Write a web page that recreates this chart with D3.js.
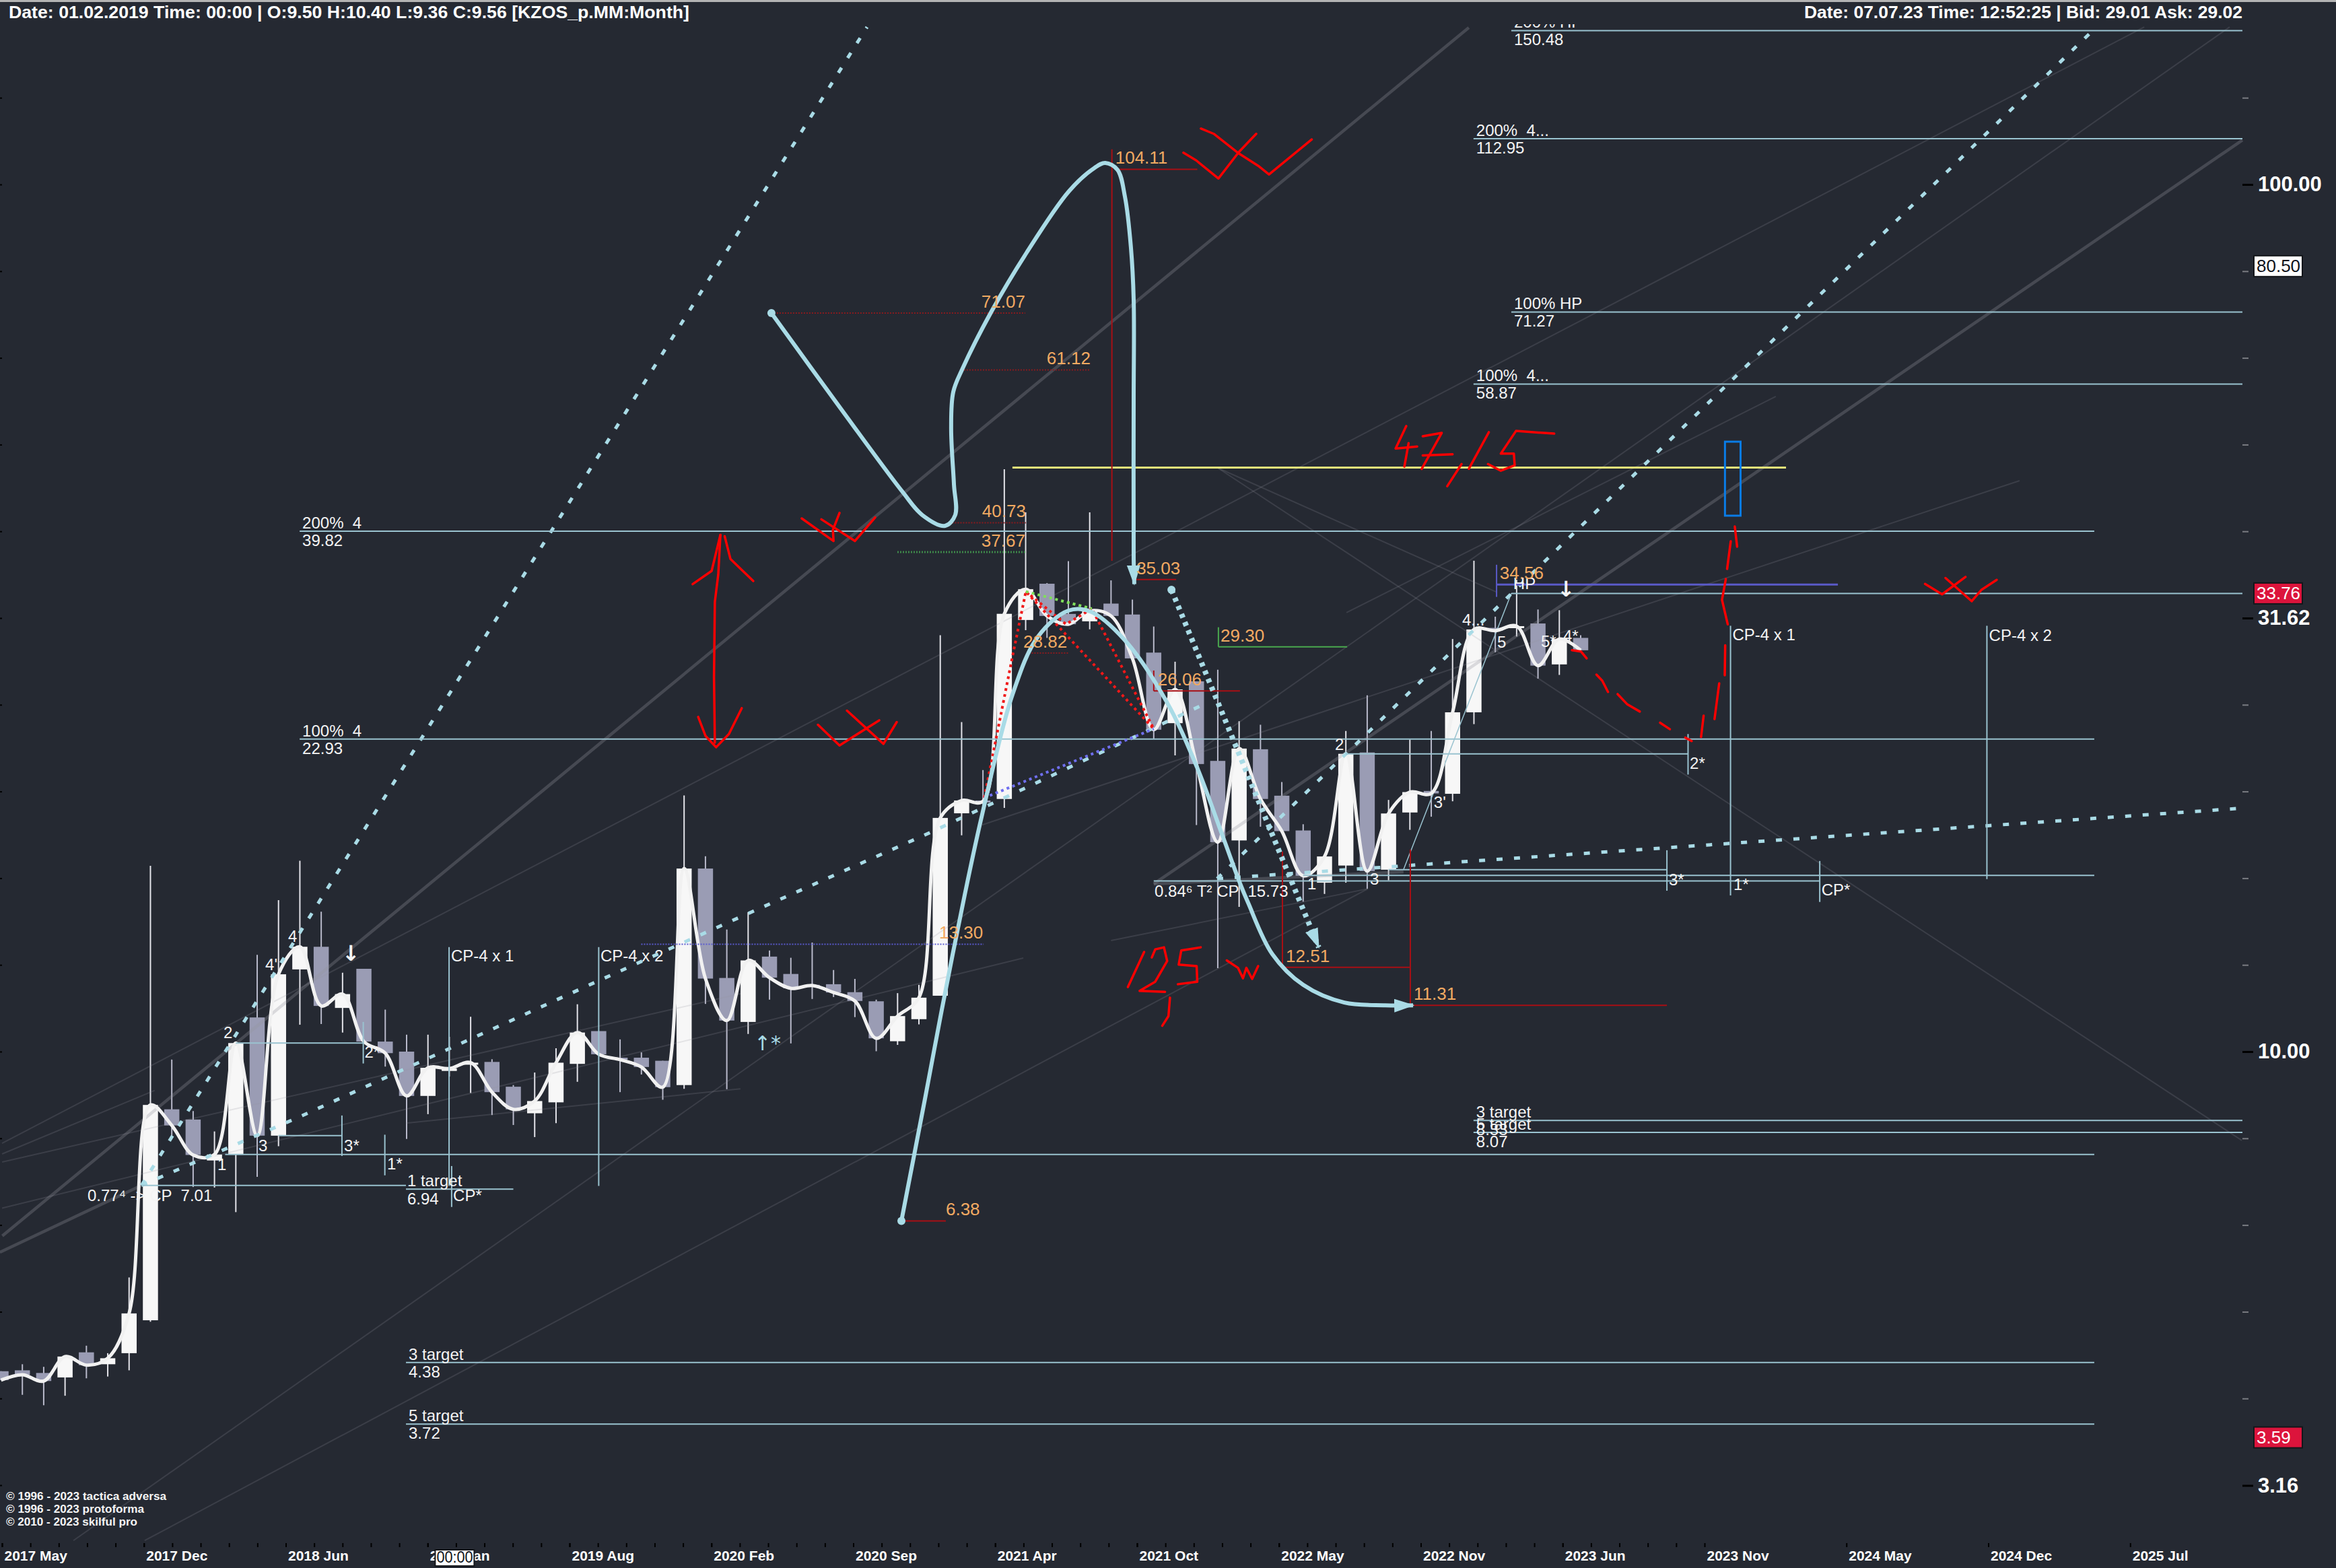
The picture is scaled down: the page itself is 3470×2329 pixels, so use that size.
<!DOCTYPE html>
<html>
<head>
<meta charset="utf-8">
<script src="https://cdn.jsdelivr.net/npm/d3@7"></script>
<style>
  html, body { margin: 0; background: #252932; }
  svg { display: block; }
  text { font-family: "Liberation Sans", Arial, sans-serif; white-space: pre; }
</style>
</head>
<body>
<svg id="chart" width="3470" height="2329"></svg>
<script>
// monthly candles, first one is May 2017
const months = d3.timeMonth.range(new Date(2017, 4, 1), new Date(2023, 7, 1));
const opens = [4.28,4.29,4.26,4.21,4.50,4.36,4.49,4.90,8.58,8.35,7.49,7.61,10.95,8.00,12.44,13.21,11.23,12.46,10.27,10.00,8.89,9.50,9.67,9.73,9.11,8.49,8.74,9.68,10.56,9.84,9.84,9.76,9.15,16.26,12.16,10.82,12.87,12.29,11.94,11.96,11.71,11.43,10.28,10.90,11.60,18.83,19.48,19.56,31.46,34.64,31.97,31.35,32.86,31.92,28.85,23.92,26.73,21.64,17.52,22.32,19.73,17.99,15.66,16.39,22.13,16.21,18.87,19.98,19.83,24.62,30.81,30.81,31.17,27.96,30.00];
const highs = [4.28,4.36,4.33,4.45,4.58,4.49,5.49,16.38,9.79,8.54,8.09,10.23,12.93,14.95,16.60,14.50,12.33,12.46,11.18,10.46,10.46,10.40,10.97,9.80,9.15,9.46,10.09,11.34,10.56,10.33,9.98,9.76,19.74,16.80,13.83,14.48,13.08,12.83,13.36,12.42,12.13,11.48,11.68,11.94,30.21,23.99,21.12,46.95,41.87,34.70,36.78,41.87,34.95,33.21,30.92,28.16,26.73,27.57,24.04,23.82,20.46,18.29,16.79,23.43,25.76,19.51,22.90,23.43,29.91,36.82,31.74,35.00,32.35,32.29,30.21];
const lows = [4.18,4.02,3.91,4.01,4.20,4.22,4.29,4.88,8.00,6.98,6.97,6.53,7.17,7.78,10.74,10.76,10.52,10.27,9.61,7.93,8.47,9.36,8.96,8.45,8.23,7.97,8.27,9.23,9.93,8.98,9.41,8.80,9.06,11.35,9.05,10.48,11.48,10.22,11.50,11.56,10.96,10.01,10.18,10.75,11.60,17.76,19.01,19.10,30.62,30.00,31.11,30.69,31.80,28.41,22.96,21.96,18.25,12.48,14.69,18.17,17.96,14.89,15.20,15.66,15.41,15.76,18.02,18.66,19.44,23.86,28.87,30.11,26.92,27.19,29.03];
const closes = [4.18,4.24,4.17,4.45,4.35,4.43,4.99,8.68,8.22,7.60,7.61,10.23,8.00,12.28,13.21,11.29,11.65,10.27,9.96,8.89,9.58,9.56,9.71,8.98,8.58,8.77,9.71,10.52,9.93,9.79,9.60,9.10,16.26,12.14,10.86,12.74,12.17,11.83,11.92,11.70,11.44,10.36,10.99,11.54,18.60,19.48,19.44,31.98,34.14,31.80,31.11,32.24,31.80,28.41,23.51,26.16,21.46,17.44,22.36,19.56,17.96,15.95,16.79,22.05,16.15,18.82,19.92,19.85,24.62,30.68,30.58,30.95,27.87,29.91,29.03];

const axisMonths = ['2017 May','2017 Dec','2018 Jun','2019 Jan','2019 Aug','2020 Feb','2020 Sep','2021 Apr','2021 Oct','2022 May','2022 Nov','2023 Jun','2023 Nov','2024 May','2024 Dec','2025 Jul'];
const priceTicks = [100, 31.62, 10, 3.16];
const whiteTags = [80.50];
const redTags = [33.76, 3.59];

// [price, from month, to month, text above, text below]
const targets = [
  [150.48, 70.75, 105, '200% HP', '150.48'],
  [112.95, 68.98, 105, '200%  4...', '112.95'],
  [71.27, 70.75, 105, '100% HP', '71.27'],
  [58.87, 68.98, 105, '100%  4...', '58.87'],
  [39.82, 13.99, 98.06, '200%  4', '39.82'],
  [22.93, 13.99, 98.06, '100%  4', '22.93'],
  [8.33, 68.98, 105, '3 target', '8.33'],
  [8.07, 68.98, 105, '5 target', '8.07'],
  [4.38, 18.97, 98.06, '3 target', '4.38'],
  [3.72, 18.97, 98.06, '5 target', '3.72'],
];
// [price, from month, to month]
const plainLevels = [
  [33.76, 70.75, 105], [22.05, 63, 79.03], [16.21, 65, 78.04], [15.97, 61, 98.06], [15.73, 54, 85.2],
  [10.23, 11, 16.97], [8.00, 13, 15.97], [7.61, 10.5, 98.06], [7.01, 6.58, 18.97], [6.94, 18.97, 24],
];
// [month, top price, bottom price]
const markers = [
  [16.97, 10.82, 9.69], [15.97, 8.44, 7.58], [17.98, 8.02, 7.20], [21.11, 7.38, 6.62], [20.99, 13.20, 7.00], [28, 13.20, 7.00],
  [79.03, 23.24, 20.87], [78.04, 17.07, 15.33], [81.02, 30.98, 15.14], [85.2, 16.59, 14.88], [93.03, 30.98, 15.81],
];
// [text, month, price]
const notes = [
  ['2', 10.42, 10.36], ["4'", 12.38, 12.42], ['4', 13.45, 13.38], ['1', 10.14, 7.30], ['3', 12.06, 7.67], ['3*', 16.07, 7.67],
  ['2*', 17.03, 9.84], ['1*', 18.09, 7.31], ['0.77⁴ -> CP  7.01', 4.05, 6.72], ['1 target', 19.03, 7.00], ['6.94', 19.03, 6.66],
  ['CP*', 21.18, 6.72], ['CP-4 x 1', 21.08, 12.71], ['CP-4 x 2', 28.08, 12.71],
  ['0.84⁶ T² CP  15.73', 54.04, 15.09], ['1', 61.2, 15.38], ['2', 62.49, 22.28], ['3', 64.13, 15.58], ["3'", 67.12, 19.10],
  ['4...', 68.45, 31.01], ['5', 70.09, 29.23], ['5*', 72.14, 29.28], ['4*', 73.18, 29.70], ['HP', 70.84, 34.17],
  ['2*', 79.11, 21.18], ['3*', 78.13, 15.55], ['1*', 81.16, 15.35], ['CP*', 85.28, 15.14], ['CP-4 x 1', 81.11, 29.81], ['CP-4 x 2', 93.13, 29.77],
];
const downArrows = [[15.97, 12.73], [72.9, 33.51]];
const upArrowNote = [['↑*', 35.27, 10.04]];

// orange price notes, [price, from, to]
const redLevels = [[104.11, 52.3, 56.04], [35.03, 53.19, 55.05], [26.06, 54, 58.04], [12.51, 60.03, 66.02], [11.31, 66.02, 78.04], [6.38, 42.37, 44.26]];
const redDotted = [[71.07, 36.09, 47.98], [61.12, 45.11, 51.04], [40.73, 44.56, 48.01], [28.82, 48.28, 50.03]];
const greenDotted = [[37.67, 41.99, 48]];
const greenLevels = [[29.30, 57.03, 63.06]];
const blueDotted = [[13.30, 29.99, 46.03]];
const blueLevels = [[34.56, 70.06, 86.05]];
const yellowLevels = [[47.15, 47.38, 83.62]];
const startNotes = [['104.11', 52.2, 104.11], ['35.03', 53.19, 35.03], ['28.82', 47.89, 28.82], ['29.30', 57.13, 29.30], ['26.06', 54.19, 26.06], ['12.51', 60.19, 12.51], ['11.31', 66.18, 11.31], ['6.38', 44.26, 6.38], ['34.56', 70.21, 34.56]];
const endNotes = [['71.07', 47.98, 71.07], ['61.12', 51.04, 61.12], ['40.73', 48.01, 40.73], ['37.67', 47.98, 37.67], ['13.30', 46, 13.30]];
const redStems = [[52.04, 109.8, 36.82], [54, 27.51, 26.06], [60.03, 17.01, 12.51], [66.02, 17.10, 11.31]];
const greenStems = [[57.03, 30.86, 29.30]];
const blueStems = [[70.06, 36.43, 33.45]];

// trend lines, [[month, price], [month, price]]
const thickTrends = [
  [[0.06, 6.13], [68.76, 151.7]], [[54, 15.61], [105, 112.5]], [[-0.05, 5.87], [6.58, 7.01]], [[54, 15.61], [65.7, 16.12]],
];
const thinTrends = [
  [[0.05, 7.84], [100.4, 151.9]], [[0.05, 7.62], [7.2, 9.02]], [[0.05, 7.46], [34.64, 11.66]], [[0.05, 6.60], [47.89, 12.82]],
  [[52, 13.43], [64.03, 15.41]], [[3.39, 2.73], [104.4, 151.9]], [[6.73, 2.73], [64.03, 15.41]], [[45.96, 18.26], [94.56, 45.54]],
  [[57, 47.11], [104.97, 7.90]], [[57, 47.11], [70.09, 33.85]], [[63.03, 32.08], [83.14, 56.95]], [[18.97, 8.27], [34.64, 9.06]],
];
const hpSlope = [[70.75, 33.76], [65.7, 16.21]];
const dashedTrends = [
  [[6.58, 7.01], [40.57, 151.9]],
  [[6.58, 7.01], [13.89, 8.39], [27.83, 12.02], [34.14, 14.12], [43.57, 17.91], [56.62, 25.33]],
  [[56.97, 15.83], [97.94, 150.1]],
  [[56.97, 15.83], [104.78, 19.07]],
];

// the hand drawn blue curves and the red ink
const loopCurve = [[36.09,71.07],[39.34,55.14],[42.24,44.18],[43.16,41.57],[44.23,40.4],[44.7,41.57],[44.64,45.13],[44.51,52.35],[44.61,57.66],[45.05,61.38],[46.41,71.46],[48.05,83.48],[50.03,98.23],[51.2,104.4],[51.73,105.9],[52.3,104.0],[52.65,96.84],[52.93,84.69],[53.06,73.66],[53.06,56.34],[53.06,37.0],[53.09,34.6]];
const riseFallCurve = [[42.18,6.38],[43.31,8.89],[44.07,11.17],[45.14,15.14],[45.96,18.76],[47.38,25.79],[48.58,30.11],[50,32.25],[51.01,32.19],[52.62,29.86],[54.6,25.33],[56.02,21.30],[57.22,17.75],[58.04,15.64],[58.42,14.85],[59.55,12.96],[61,11.94],[62.93,11.39],[64.85,11.31],[66.15,11.31]];
const dottedArrow = [[54.83, 34.09], [61.73, 13.19]];
const curveStarts = [[36.09, 71.07], [42.18, 6.38], [54.83, 34.09]];
const redDots = [
  [[46.06,19.62],[47.38,28.53],[48.01,33.93],[54,23.56]],
  [[48.01,33.93],[49.89,31.11],[51.1,32.42],[54,23.56]],
];
const greenDots = [[48.01, 33.93], [51.1, 32.42]];
const blueDots = [[46.06, 19.62], [54, 23.56]];
const box = [80.76, 50.51, 81.49, 41.5];
const redInk = [
  [[55.39,108.8],[55.99,106.6],[57.03,101.6],[57.99,109.0],[58.8,114.4]],
  [[56.21,116.0],[56.81,114.4],[57.98,108.6],[58.89,105.1],[59.4,102.7],[61.4,112.7]],
  [[37.51,41.2],[39,38.8],[38.97,39.96],[39.28,41.8]],
  [[38.43,41.1],[40,38.8],[40.95,41.3]],
  [[33.7,39.44],[33.6,35.5],[33.44,33.0],[33.4,27.02],[33.44,22.72]],
  [[32.4,34.6],[33.29,35.84],[33.7,39.44]],
  [[33.9,39.3],[34.17,37.0],[35.24,34.89]],
  [[32.66,24.32],[33,23.13],[33.5,22.44],[34.1,23.24],[34.7,24.89]],
  [[38.27,23.82],[39.28,22.55],[41.14,24.1]],
  [[39.63,24.73],[41.34,22.64],[41.96,23.99]],
  [[53.55,13.03],[52.79,11.87]],
  [[53.91,12.84],[54.07,13.12],[54.48,13.19],[54.63,12.72],[54.07,12.04],[53.34,11.75],[54.53,11.72]],
  [[56.2,13.19],[55.29,13.08],[55.17,12.60],[56.01,12.55],[56.04,12.04],[55.13,11.96]],
  [[57.42,12.74],[57.95,12.49],[58.18,12.15],[58.34,12.49],[58.61,12.13],[58.89,12.55]],
  [[54.76,11.54],[54.69,10.99],[54.4,10.71]],
  [[65.83,52.65],[65.33,49.6],[66.34,49.87]],
  [[65.94,50.32],[65.74,47.27]],
  [[66.6,51.24],[67.49,51.7],[66.55,46.98]],
  [[66.6,48.7],[68,48.85]],
  [[68.42,47.6],[67.75,44.88]],
  [[69.7,51.8],[68.76,47]],
  [[72.76,51.6],[70.97,51.97],[70.26,48.94],[70.87,48.94],[70.91,47.44],[70.26,46.76],[69.66,47.6]],
  [[73.59,29.03],[74.02,28.93],[74.28,28.41]],
  [[74.74,27.21],[75.01,26.78],[75.28,25.99]],
  [[75.73,25.84],[76.19,25.14],[76.77,24.67]],
  [[77.72,23.95],[78.18,23.54]],
  [[78.9,23.02],[79.2,22.81]],
  [[79.64,23.06],[79.76,24.40]],
  [[80.27,24.18],[80.49,26.59]],
  [[80.75,27.16],[80.77,29.41]],
  [[80.89,31.10],[80.62,33.19],[80.8,35.08]],
  [[80.86,36.03],[81.03,38.77]],
  [[81.33,38.22],[81.22,40.32]],
  [[90.13,34.62],[90.93,33.68],[92.03,35.27]],
  [[91.09,35.17],[92.32,33.07],[92.78,34.09],[93.49,35.0]],
];

const headerLeft = 'Date: 01.02.2019 Time: 00:00 | O:9.50 H:10.40 L:9.36 C:9.56 [KZOS_p.MM:Month]';
const headerRight = 'Date: 07.07.23 Time: 12:52:25 | Bid: 29.01 Ask: 29.02';
const credits = ['© 1996 - 2023 tactica adversa', '© 1996 - 2023 protoforma', '© 2010 - 2023 skilful pro'];

const bg = '#252932', ice = '#9ac3d0', sky = '#a9dbe6', orange = '#f2aa62', red = '#ff0000', darkRed = '#a80f14';

const svg = d3.select('#chart');
const x = d3.scaleLinear().domain([0, 74]).range([1.5, 2348]);
const y = d3.scaleLog().domain([100, 10]).range([274, 1562]);
const path = d3.line().x(d => x(d[0])).y(d => y(d[1]));
const smooth = d3.line().x(d => x(d[0])).y(d => y(d[1])).curve(d3.curveCatmullRom);

svg.append('rect').attr('width', 3470).attr('height', 2329).attr('fill', bg);

const defs = svg.append('defs');
defs.append('clipPath').attr('id', 'plot').append('rect').attr('x', 0).attr('y', 36).attr('width', 3470).attr('height', 2260);
defs.append('marker').attr('id', 'head').attr('markerUnits', 'userSpaceOnUse')
  .attr('markerWidth', 30).attr('markerHeight', 20).attr('refX', 28).attr('refY', 10).attr('orient', 'auto')
  .append('path').attr('d', 'M0,0L30,10L0,20Z').attr('fill', sky);

const plot = svg.append('g').attr('clip-path', 'url(#plot)');

// candles go first, the trend lines show through them
const candles = months.map((m, i) => ({ m, i, o: opens[i], h: highs[i], l: lows[i], c: closes[i] }));
const candle = plot.append('g').selectAll('g').data(candles).enter().append('g');
candle.append('line')
  .attr('x1', d => x(d.i)).attr('x2', d => x(d.i))
  .attr('y1', d => y(d.h)).attr('y2', d => y(d.l))
  .attr('stroke', d => d.c >= d.o ? '#e4e4ea' : '#b9bacb').attr('stroke-width', 2);
candle.append('rect')
  .attr('x', d => x(d.i) - 11.25).attr('width', 22.5)
  .attr('y', d => y(Math.max(d.o, d.c)))
  .attr('height', d => Math.max(3, Math.abs(y(d.o) - y(d.c))))
  .attr('fill', d => d.c >= d.o ? '#f7f7f7' : '#9a9cb4');

plot.append('g').selectAll('path').data(thinTrends).enter().append('path')
  .attr('d', path).attr('fill', 'none').attr('stroke', 'rgba(150,150,160,0.2)').attr('stroke-width', 2);
plot.append('g').selectAll('path').data(thickTrends).enter().append('path')
  .attr('d', path).attr('fill', 'none').attr('stroke', 'rgba(150,150,160,0.3)').attr('stroke-width', 4.5);
plot.append('path').attr('d', path(hpSlope)).attr('fill', 'none').attr('stroke', ice).attr('stroke-width', 1.5);

// the close spline
plot.append('path')
  .attr('d', smooth(candles.map(d => [d.i, d.c])))
  .attr('fill', 'none').attr('stroke', '#f1f1f1').attr('stroke-width', 5);

plot.append('g').selectAll('path').data(dashedTrends).enter().append('path')
  .attr('d', path).attr('fill', 'none').attr('stroke', sky).attr('stroke-width', 5).attr('stroke-dasharray', '9 17');

function levels(rows, stroke, width, dash) {
  plot.append('g').selectAll('line').data(rows).enter().append('line')
    .attr('x1', d => x(d[1])).attr('x2', d => x(d[2]))
    .attr('y1', d => y(d[0])).attr('y2', d => y(d[0]))
    .attr('stroke', stroke).attr('stroke-width', width).attr('stroke-dasharray', dash || null);
}
function stems(rows, stroke, width) {
  plot.append('g').selectAll('line').data(rows).enter().append('line')
    .attr('x1', d => x(d[0])).attr('x2', d => x(d[0]))
    .attr('y1', d => y(d[1])).attr('y2', d => y(d[2]))
    .attr('stroke', stroke).attr('stroke-width', width);
}
function notesAt(rows, fill, size, anchor, dy) {
  return plot.append('g').selectAll('text').data(rows).enter().append('text')
    .attr('x', d => x(d[1])).attr('y', d => y(d[2]) + dy)
    .attr('fill', fill).attr('font-size', size).attr('text-anchor', anchor)
    .text(d => d[0]);
}

levels(targets, ice, 2);
levels(plainLevels, ice, 2);
stems(markers, ice, 2);
levels(redLevels, darkRed, 2);
levels(redDotted, '#8a1a1e', 2, '2 2');
levels(greenDotted, '#3f8a4a', 3, '2 2');
levels(greenLevels, '#4aa84e', 2);
levels(blueDotted, '#5a5ad0', 2, '2 2');
levels(blueLevels, '#5a5ac8', 3);
levels(yellowLevels, '#e8e87a', 3);
stems(redStems, darkRed, 2);
stems(greenStems, '#4aa84e', 2);
stems(blueStems, '#5a5ac8', 2);

plot.append('g').selectAll('path').data(redDots).enter().append('path')
  .attr('d', path).attr('fill', 'none').attr('stroke', '#f01818').attr('stroke-width', 4).attr('stroke-dasharray', '4 5');
plot.append('path').attr('d', path(greenDots)).attr('fill', 'none').attr('stroke', '#7fe05a').attr('stroke-width', 4).attr('stroke-dasharray', '4 5');
plot.append('path').attr('d', path(blueDots)).attr('fill', 'none').attr('stroke', '#6f6ff0').attr('stroke-width', 4).attr('stroke-dasharray', '4 5');

plot.append('path').attr('d', smooth(loopCurve)).attr('fill', 'none').attr('stroke', sky).attr('stroke-width', 6).attr('marker-end', 'url(#head)');
plot.append('path').attr('d', smooth(riseFallCurve)).attr('fill', 'none').attr('stroke', sky).attr('stroke-width', 6).attr('marker-end', 'url(#head)');
plot.append('path').attr('d', path(dottedArrow)).attr('fill', 'none').attr('stroke', sky).attr('stroke-width', 8).attr('stroke-dasharray', '6 7').attr('marker-end', 'url(#head)');
plot.append('g').selectAll('circle').data(curveStarts).enter().append('circle')
  .attr('cx', d => x(d[0])).attr('cy', d => y(d[1])).attr('r', 6).attr('fill', sky);

plot.append('rect')
  .attr('x', x(box[0])).attr('y', y(box[1]))
  .attr('width', x(box[2]) - x(box[0])).attr('height', y(box[3]) - y(box[1]))
  .attr('fill', 'none').attr('stroke', '#0a7ce6').attr('stroke-width', 3);

plot.append('g').selectAll('path').data(redInk).enter().append('path')
  .attr('d', path).attr('fill', 'none').attr('stroke', red).attr('stroke-width', 3.5)
  .attr('stroke-linecap', 'round').attr('stroke-linejoin', 'round');

// level captions
const caption = plot.append('g').attr('fill', '#f4f4f4').attr('font-size', 24);
caption.selectAll('.above').data(targets).enter().append('text').attr('class', 'above')
  .attr('x', d => x(d[1]) + 4).attr('y', d => y(d[0]) - 4).text(d => d[3]);
caption.selectAll('.below').data(targets).enter().append('text').attr('class', 'below')
  .attr('x', d => x(d[1]) + 4).attr('y', d => y(d[0]) + 22).text(d => d[4]);

notesAt(notes, '#f4f4f4', 24, 'start', 0);
notesAt(upArrowNote, sky, 30, 'start', 0).style('font-family', '"DejaVu Sans"');
notesAt(startNotes, orange, 26, 'start', -8);
notesAt(endNotes, orange, 26, 'end', -8);
plot.append('g').selectAll('text').data(downArrows).enter().append('text')
  .attr('x', d => x(d[0])).attr('y', d => y(d[1])).attr('fill', '#f4f4f4').attr('font-size', 32)
  .attr('font-weight', 'bold').style('font-family', '"DejaVu Sans"').text('↓');

// price axis
const majorAxis = svg.append('g').attr('transform', 'translate(3331,0)')
  .call(d3.axisRight(y).tickValues(priceTicks).tickSize(16).tickPadding(7).tickFormat(d3.format('.2f')));
majorAxis.select('.domain').remove();
majorAxis.selectAll('line').attr('stroke', '#000').attr('stroke-width', 3);
majorAxis.selectAll('text').attr('fill', '#fff').attr('font-size', 31).attr('font-weight', 'bold')
  .attr('font-family', '"Liberation Sans", Arial, sans-serif');

const minorPrices = d3.range(-5, 20).map(k => Math.pow(10, 0.1 * k + 0.5)).filter(v => y(v) > 140 && y(v) < 2290);
const minorAxis = svg.append('g').attr('transform', 'translate(3331,0)')
  .call(d3.axisRight(y).tickValues(minorPrices.filter(v => !priceTicks.some(p => Math.abs(y(p) - y(v)) < 3))).tickSize(9).tickFormat(''));
minorAxis.select('.domain').remove();
minorAxis.selectAll('line').attr('stroke', '#7a7c82').attr('stroke-width', 2);

const edgeAxis = svg.append('g').attr('transform', 'translate(3,0)')
  .call(d3.axisLeft(y).tickValues(minorPrices).tickSize(3).tickFormat(''));
edgeAxis.select('.domain').remove();
edgeAxis.selectAll('line').attr('stroke', '#000').attr('stroke-width', 2);

// price tags
function tags(rows, fill, ink) {
  const tag = svg.append('g').selectAll('g').data(rows).enter().append('g');
  tag.append('rect').attr('x', 3348).attr('y', d => y(d) - 15.5).attr('width', 72).attr('height', 31)
    .attr('fill', fill).attr('stroke', '#14161a').attr('stroke-width', 2);
  tag.append('text').attr('x', 3352).attr('y', d => y(d) + 9).attr('fill', ink).attr('font-size', 26)
    .text(d => d.toFixed(2));
}
tags(whiteTags, '#ffffff', '#10131a');
tags(redTags, '#dc143c', '#ffffff');

// time axis
const monthAxisScale = d3.scalePoint().domain(axisMonths).range([3, 3164.25]);
const timeAxis = svg.append('g').attr('transform', 'translate(0,2292)')
  .call(d3.axisBottom(monthAxisScale).tickSize(6).tickPadding(6));
timeAxis.select('.domain').remove();
timeAxis.selectAll('line').attr('stroke', '#000').attr('stroke-width', 2);
timeAxis.selectAll('text').attr('fill', '#fff').attr('font-size', 21).attr('font-weight', 'bold')
  .attr('text-anchor', 'start').attr('dx', 3).attr('dy', 0).attr('y', 26)
  .attr('font-family', '"Liberation Sans", Arial, sans-serif');

const fineScale = d3.scaleLinear().domain([0, 12]).range([monthAxisScale(axisMonths[0]), monthAxisScale(axisMonths[12])]);
const fineAxis = svg.append('g').attr('transform', 'translate(0,2292)')
  .call(d3.axisBottom(fineScale).tickValues(d3.range(0, 60).map(k => k / 5)).tickSize(6).tickFormat(''));
fineAxis.select('.domain').remove();
fineAxis.selectAll('line').attr('stroke', '#000').attr('stroke-width', 2);

// crosshair time tag on Feb 2019
svg.append('rect').attr('x', x(21) - 21).attr('y', 2302).attr('width', 58).attr('height', 24)
  .attr('fill', '#fff').attr('stroke', '#14161a').attr('stroke-width', 2);
svg.append('text').attr('x', x(21) - 19).attr('y', 2321).attr('fill', '#10131a').attr('font-size', 24)
  .attr('textLength', 54).attr('lengthAdjust', 'spacingAndGlyphs').text('00:00');

// header
svg.append('rect').attr('width', 3470).attr('height', 3).attr('fill', '#b4b4b4');
svg.append('text').attr('x', 13).attr('y', 27).attr('fill', '#fff').attr('font-size', 25).attr('font-weight', 'bold')
  .attr('textLength', 1011).attr('lengthAdjust', 'spacingAndGlyphs').text(headerLeft);
svg.append('text').attr('x', 2680).attr('y', 27).attr('fill', '#fff').attr('font-size', 25).attr('font-weight', 'bold')
  .attr('textLength', 651).attr('lengthAdjust', 'spacingAndGlyphs').text(headerRight);

// credits, bottom left
svg.append('g').selectAll('text').data(credits).enter().append('text')
  .attr('x', 9).attr('y', (d, i) => 2228 + i * 19).attr('fill', '#f4f4f4')
  .attr('font-size', 17).attr('font-weight', 'bold').attr('lengthAdjust', 'spacingAndGlyphs')
  .attr('textLength', (d, i) => [238, 205, 195][i]).text(d => d);
</script>
</body>
</html>
